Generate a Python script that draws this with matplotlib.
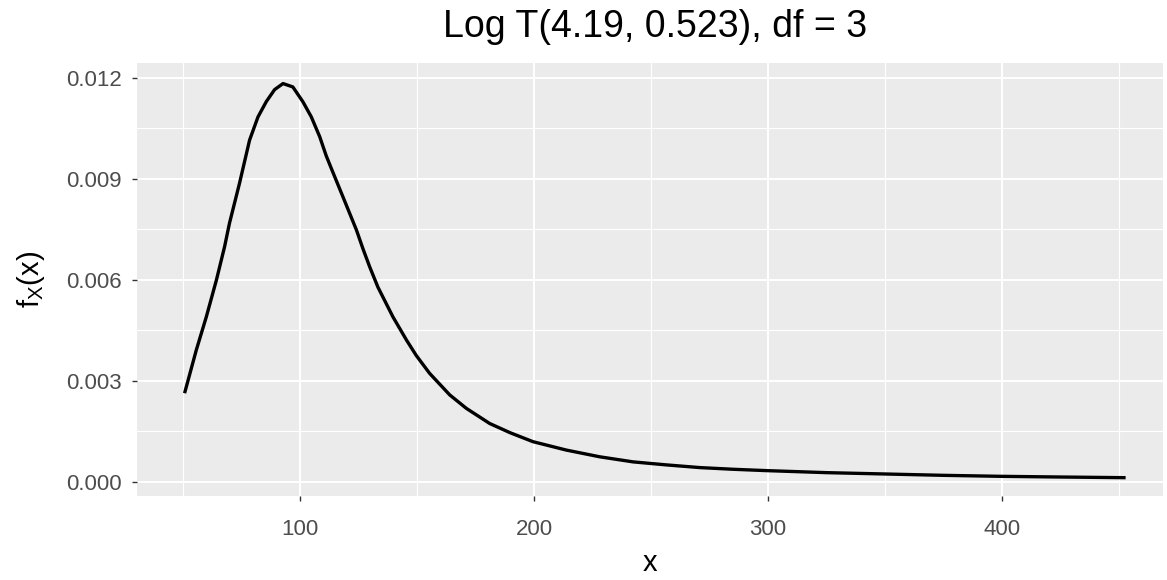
import matplotlib
matplotlib.use("Agg")
import matplotlib.pyplot as plt
from matplotlib.ticker import MultipleLocator

plt.rcParams['font.family'] = ['Liberation Sans', 'DejaVu Sans']
plt.rcParams['mathtext.fontset'] = 'custom'
plt.rcParams['mathtext.rm'] = 'Liberation Sans'
plt.rcParams['mathtext.it'] = 'Liberation Sans'

# Data
x_vals = [50.5, 55.5, 59.8, 64.1, 67.6, 69.7, 74.0, 78.3, 81.9, 85.5, 89.0, 92.6,
          96.8, 101.1, 104.7, 108.3, 111.1, 113.9, 118.2, 124.0, 126.8, 129.7,
          133.2, 139.6, 145.4, 149.6, 155.3, 163.9, 171.0, 181.0, 189.6, 199.5,
          213.8, 228.1, 242.3, 256.6, 270.9, 285.1, 299.4, 325.0, 350.0, 375.0,
          400.0, 425.0, 453.0]
density = [0.00263, 0.00391, 0.00490, 0.00599, 0.00698, 0.00768, 0.00887, 0.01015,
           0.01084, 0.01130, 0.01165, 0.01183, 0.01173, 0.01129, 0.01084, 0.01025,
           0.00968, 0.00920, 0.00847, 0.00748, 0.00692, 0.00638, 0.00578, 0.00490,
           0.00421, 0.00375, 0.00322, 0.00258, 0.00218, 0.00173, 0.00146, 0.00119,
           0.00094, 0.00074, 0.00059, 0.00050, 0.00042, 0.00037, 0.00033, 0.00027,
           0.00023, 0.00019, 0.00016, 0.00014, 0.00012]
x_ticks = [100, 200, 300, 400]
y_ticks = [0.000, 0.003, 0.006, 0.009, 0.012]
y_tick_labels = ["0.000", "0.003", "0.006", "0.009", "0.012"]
title = "Log T(4.19, 0.523), df = 3"

fig = plt.figure(figsize=(11.67, 5.8), dpi=100)
ax = fig.add_axes([0.1171, 0.1453, 0.8795, 0.7466])
ax.set_facecolor('#EBEBEB')
for s in ax.spines.values():
    s.set_visible(False)

ax.plot(x_vals, density, color='black', lw=2.4, solid_joinstyle='round',
        solid_capstyle='butt', zorder=3)

ax.set_xlim(30, 469)
ax.set_ylim(-0.000416, 0.01245)
ax.set_xticks(x_ticks)
ax.set_yticks(y_ticks)
ax.set_yticklabels(y_tick_labels)
ax.xaxis.set_minor_locator(MultipleLocator(50))
ax.yaxis.set_minor_locator(MultipleLocator(0.0015))
ax.grid(which='major', color='white', lw=1.4, zorder=0)
ax.grid(which='minor', color='white', lw=0.8, zorder=0)
ax.set_axisbelow(True)
ax.tick_params(which='major', length=3.5, width=1, color='#333333',
               labelcolor='#4D4D4D', labelsize=16)
ax.tick_params(axis='y', which='major', pad=7)
ax.tick_params(axis='x', which='major', pad=13)
ax.tick_params(which='minor', length=0)

ax.set_xlabel('x', fontsize=21, color='black', labelpad=7)
ax.set_ylabel(r'$\mathregular{f_X(x)}$', fontsize=21, color='black')
ax.yaxis.set_label_coords(-0.0874, 0.5)
fig.text(0.561, 1 - 37 / 580, title, fontsize=27, ha='center', va='baseline')

fig.savefig('out.png', dpi=100)
